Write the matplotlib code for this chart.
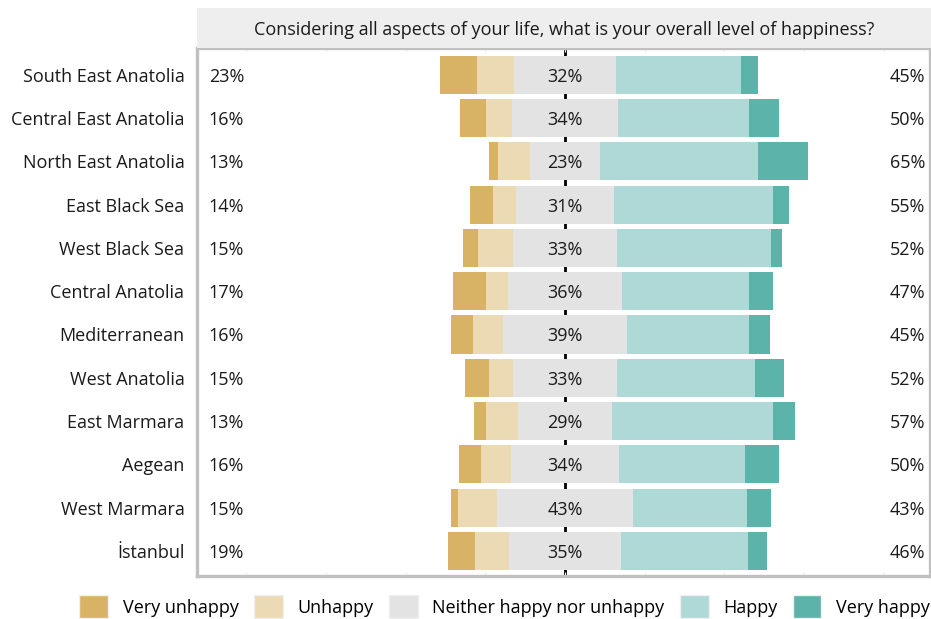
import numpy as np
import matplotlib.pyplot as plt
from matplotlib.patches import Patch

plt.rcParams['font.family'] = ['Open Sans', 'DejaVu Sans']

# data (percent of respondents)
regions = ["South East Anatolia", "Central East Anatolia", "North East Anatolia",
           "East Black Sea", "West Black Sea", "Central Anatolia", "Mediterranean",
           "West Anatolia", "East Marmara", "Aegean", "West Marmara", "İstanbul"]
very_unhappy = [11.4, 8.3, 2.8, 7.2, 4.7, 10.4, 6.7, 7.5, 3.6, 6.7, 2.2, 8.4]
unhappy = [11.8, 8.1, 10.2, 7.2, 11.0, 6.7, 9.5, 7.5, 10.1, 9.5, 12.3, 10.8]
neutral = [31.9, 33.4, 22.0, 30.9, 32.8, 36.0, 39.1, 32.8, 29.6, 34.0, 42.6, 34.9]
happy = [39.1, 41.0, 49.4, 49.7, 48.2, 39.7, 38.2, 43.2, 50.5, 39.4, 35.7, 40.1]
very_happy = [5.6, 9.5, 15.8, 5.0, 3.4, 7.5, 6.7, 9.2, 6.7, 10.8, 7.5, 5.9]

neg_lbl = [23, 16, 13, 14, 15, 17, 16, 15, 13, 16, 15, 19]
neu_lbl = [32, 34, 23, 31, 33, 36, 39, 33, 29, 34, 43, 35]
pos_lbl = [45, 50, 65, 55, 52, 47, 45, 52, 57, 50, 43, 46]

cats = ["Very unhappy", "Unhappy", "Neither happy nor unhappy", "Happy", "Very happy"]
colors = ["#d9b365", "#ebdab3", "#e3e3e3", "#aed9d6", "#5bb3aa"]
title = "Considering all aspects of your life, what is your overall level of happiness?"

fig = plt.figure(figsize=(9.31, 6.19), dpi=100)
ax = fig.add_axes([0.2116, 0.0695, 0.7873, 0.853])

y = np.arange(len(regions))
vu = np.array(very_unhappy)
un = np.array(unhappy)
ne = np.array(neutral)
ha = np.array(happy)
vh = np.array(very_happy)

start = -(vu + un + ne / 2)
segs = [vu, un, ne, ha, vh]
left = start.copy()
for vals, c in zip(segs, colors):
    ax.barh(y, vals, left=left, height=0.88, color=c, zorder=2)
    left = left + vals

ax.axvline(0, color='black', lw=2, zorder=1)

fs = 13
for i in range(len(regions)):
    ax.text(0, y[i], f"{neu_lbl[i]}%", ha='center', va='center_baseline', fontsize=fs,
            color='#1a1a1a', zorder=3)
    ax.text(0.016, y[i], f"{neg_lbl[i]}%", ha='left', va='center_baseline', fontsize=fs,
            color='#1a1a1a', transform=ax.get_yaxis_transform())
    ax.text(0.994, y[i], f"{pos_lbl[i]}%", ha='right', va='center_baseline', fontsize=fs,
            color='#1a1a1a', transform=ax.get_yaxis_transform())

ax.set_xlim(-115.5, 114.5)
ax.set_ylim(11.58, -0.62)
ax.set_yticks(y)
ax.set_yticklabels(regions, fontsize=fs, color='#1a1a1a', va='center_baseline')
ax.tick_params(axis='y', length=0, pad=9)
ax.set_xticks(np.arange(-100, 101, 25))
ax.tick_params(axis='x', direction='in', length=3, color='#f0f0f0', labelbottom=False,
               top=True)
for s in ax.spines.values():
    s.set_color('#c0c0c0')
    s.set_linewidth(2.4)

# title strip
tax = fig.add_axes([0.2116, 0.9225, 0.7884, 0.065])
tax.set_facecolor('#eeeeee')
for s in tax.spines.values():
    s.set_visible(False)
tax.set_xticks([])
tax.set_yticks([])
tax.text(0.5, 0.5, title, ha='center', va='center_baseline', fontsize=fs, color='#1a1a1a')

handles = [Patch(facecolor=c, edgecolor='#f0f0f0', label=l) for c, l in zip(colors, cats)]
fig.legend(handles=handles, loc='lower center', bbox_to_anchor=(0.542, -0.025), ncol=5,
           frameon=False, fontsize=fs, handlelength=1.6, handleheight=1.6,
           columnspacing=0.85, handletextpad=0.8)

fig.savefig('out.png', dpi=100)
